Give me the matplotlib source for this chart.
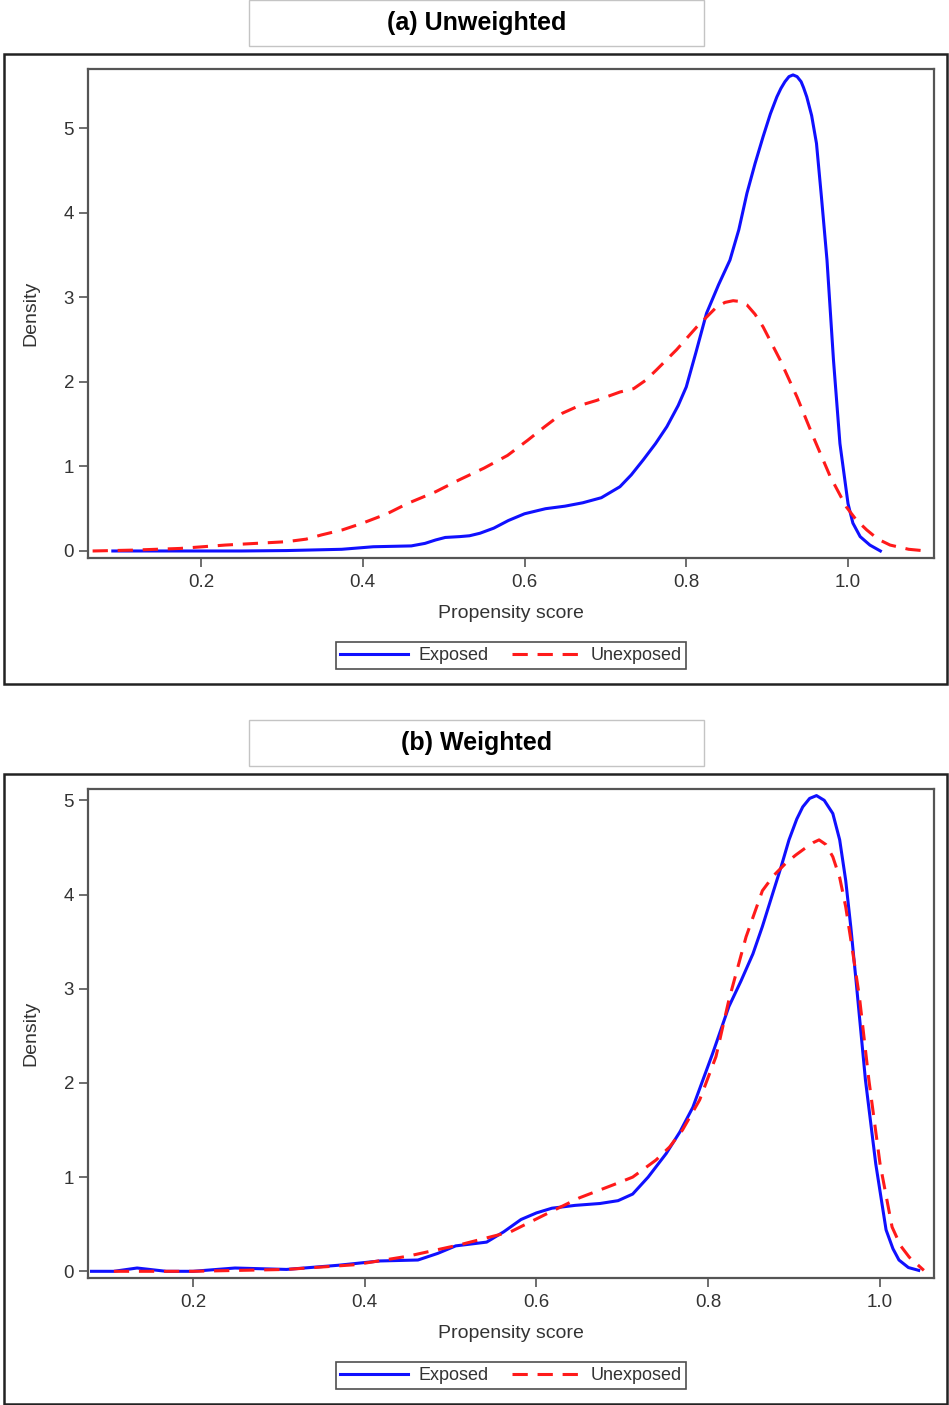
import matplotlib
matplotlib.use("Agg")
import matplotlib.pyplot as plt
from matplotlib.patches import Rectangle

plt.rcParams['font.family'] = ['Liberation Sans', 'DejaVu Sans']

# (a) Unweighted
a_exp_x = [0.091, 0.12, 0.20, 0.25, 0.306, 0.374, 0.413, 0.46, 0.477, 0.49, 0.502,
           0.52, 0.532, 0.545, 0.562, 0.58, 0.60, 0.626, 0.65, 0.672, 0.695, 0.718,
           0.732, 0.747, 0.762, 0.776, 0.79, 0.80, 0.812, 0.825, 0.84, 0.854, 0.865,
           0.875, 0.885, 0.895, 0.904, 0.912, 0.917, 0.922, 0.927, 0.932, 0.937,
           0.942, 0.945, 0.949, 0.955, 0.961, 0.967, 0.974, 0.982, 0.990, 1.0,
           1.006, 1.015, 1.027, 1.04]
a_exp_y = [0.0, 0.0, 0.0, 0.0, 0.005, 0.02, 0.05, 0.06, 0.09, 0.13, 0.16,
           0.17, 0.18, 0.21, 0.27, 0.36, 0.44, 0.50, 0.53, 0.57, 0.63, 0.76,
           0.90, 1.08, 1.27, 1.47, 1.72, 1.94, 2.35, 2.81, 3.15, 3.44, 3.80,
           4.23, 4.58, 4.90, 5.17, 5.37, 5.47, 5.55, 5.61, 5.63, 5.61,
           5.55, 5.48, 5.37, 5.15, 4.82, 4.20, 3.44, 2.26, 1.27, 0.56,
           0.33, 0.17, 0.07, 0.0]
a_unexp_x = [0.066, 0.115, 0.174, 0.23, 0.306, 0.33, 0.349, 0.375, 0.40, 0.43, 0.455,
             0.49, 0.519, 0.55, 0.579, 0.604, 0.625, 0.647, 0.668, 0.689, 0.718,
             0.735, 0.75, 0.763, 0.788, 0.813, 0.838, 0.848, 0.858, 0.867, 0.875,
             0.885, 0.895, 0.916, 0.937, 0.957, 0.978, 0.998, 1.01, 1.023, 1.037,
             1.052, 1.075, 1.097]
a_unexp_y = [0.0, 0.01, 0.03, 0.07, 0.11, 0.14, 0.19, 0.25, 0.33, 0.44, 0.56,
             0.70, 0.84, 0.98, 1.13, 1.31, 1.47, 1.63, 1.72, 1.78, 1.88,
             1.92, 2.02, 2.14, 2.38, 2.65, 2.89, 2.94, 2.96, 2.95, 2.91,
             2.80, 2.65, 2.26, 1.82, 1.35, 0.88, 0.52, 0.37, 0.25, 0.14,
             0.07, 0.02, 0.0]

# (b) Weighted
b_exp_x = [0.082, 0.108, 0.135, 0.169, 0.2, 0.249, 0.309, 0.369, 0.418, 0.462,
           0.485, 0.506, 0.542, 0.562, 0.582, 0.60, 0.618, 0.645, 0.674, 0.695,
           0.712, 0.73, 0.751, 0.767, 0.782, 0.805, 0.824, 0.838, 0.852, 0.863,
           0.875, 0.885, 0.894, 0.903, 0.91, 0.918, 0.926, 0.935, 0.945, 0.953,
           0.96, 0.966, 0.972, 0.983, 0.995, 1.007, 1.015, 1.022, 1.033, 1.045]
b_exp_y = [0.0, 0.0, 0.035, 0.0, 0.0, 0.035, 0.02, 0.064, 0.11, 0.12,
           0.19, 0.27, 0.31, 0.42, 0.55, 0.62, 0.67, 0.70, 0.72, 0.75,
           0.82, 1.00, 1.25, 1.48, 1.74, 2.31, 2.81, 3.08, 3.37, 3.66,
           4.01, 4.30, 4.58, 4.80, 4.93, 5.02, 5.05, 5.0, 4.86, 4.58,
           4.15, 3.65, 3.09, 2.03, 1.14, 0.44, 0.24, 0.12, 0.04, 0.01]
b_unexp_x = [0.108, 0.2, 0.309, 0.389, 0.45, 0.51, 0.57, 0.614, 0.65, 0.69,
             0.712, 0.739, 0.755, 0.77, 0.79, 0.809, 0.824, 0.844, 0.863, 0.876,
             0.89, 0.902, 0.914, 0.922, 0.929, 0.937, 0.945, 0.953, 0.96, 0.968,
             0.976, 0.987, 1.0, 1.014, 1.024, 1.034, 1.051]
b_unexp_y = [0.0, 0.0, 0.02, 0.07, 0.16, 0.28, 0.42, 0.62, 0.78, 0.92,
             1.00, 1.18, 1.32, 1.50, 1.82, 2.28, 2.88, 3.55, 4.04, 4.20,
             4.33, 4.42, 4.50, 4.55, 4.58, 4.53, 4.40, 4.18, 3.87, 3.40,
             2.91, 2.03, 1.14, 0.47, 0.27, 0.15, 0.01]

titles = ["(a) Unweighted", "(b) Weighted"]
x_ticks = [0.2, 0.4, 0.6, 0.8, 1.0]
x_ticklabels = ["0.2", "0.4", "0.6", "0.8", "1.0"]
y_ticks = [0, 1, 2, 3, 4, 5]
series_labels = ["Exposed", "Unexposed"]

W, H = 949, 1405
fig = plt.figure(figsize=(W / 100, H / 100), dpi=100)


def fx(px):
    return px / W


def fy(py):
    return 1 - py / H


def draw_panel(top, title, ex_x, ex_y, un_x, un_y, xlim, ylim):
    # title box
    fig.patches.append(Rectangle((fx(249), fy(top + 46)), fx(455), 46 / H,
                                 transform=fig.transFigure, fill=False,
                                 edgecolor="#c4c4c4", lw=1.0))
    fig.text(fx(476.5), fy(top + 23), title, ha="center", va="center",
             fontsize=18, fontweight="bold")
    # outer panel border
    fig.patches.append(Rectangle((fx(4), fy(top + 684)), fx(943), 630 / H,
                                 transform=fig.transFigure, fill=False,
                                 edgecolor="#222222", lw=1.8))
    ax = fig.add_axes([fx(88), fy(top + 558), fx(846), 489 / H])
    ax.plot(ex_x, ex_y, color="#1010ff", lw=2.2, label=series_labels[0])
    ax.plot(un_x, un_y, color="#ff1a1a", lw=2.2, linestyle=(0, (5, 3.2)),
            label=series_labels[1])
    ax.set_xlim(*xlim)
    ax.set_ylim(*ylim)
    ax.set_xticks(x_ticks)
    ax.set_xticklabels(x_ticklabels)
    ax.set_yticks(y_ticks)
    ax.tick_params(direction="out", length=6.5, width=1.2, color="#555555",
                   labelsize=13.5, labelcolor="#333333")
    ax.tick_params(axis="x", pad=5)
    ax.tick_params(axis="y", pad=3.5)
    for s in ax.spines.values():
        s.set_color("#555555")
        s.set_linewidth(1.6)
    ax.set_xlabel("Propensity score", fontsize=14, color="#333333")
    ax.xaxis.set_label_coords(0.5, -0.097)
    ax.set_ylabel("Density", fontsize=14, color="#333333")
    ax.yaxis.set_label_coords(-0.057, 0.5)
    leg = ax.legend(loc="center", ncol=2, fontsize=13,
                    bbox_to_anchor=(fx(511), fy(top + 655.5)),
                    bbox_transform=fig.transFigure,
                    handlelength=3.75, handletextpad=0.6, columnspacing=1.3,
                    borderpad=0.25, fancybox=False, frameon=True)
    leg.get_frame().set_edgecolor("#222222")
    leg.get_frame().set_linewidth(1.2)
    for t in leg.get_texts():
        t.set_color("#333333")
    return ax


draw_panel(0, titles[0], a_exp_x, a_exp_y, a_unexp_x, a_unexp_y,
           (0.0603, 1.1063), (-0.083, 5.70))
draw_panel(720, titles[1], b_exp_x, b_exp_y, b_unexp_x, b_unexp_y,
           (0.0779, 1.0628), (-0.071, 5.12))

fig.savefig("out.png", dpi=100)
